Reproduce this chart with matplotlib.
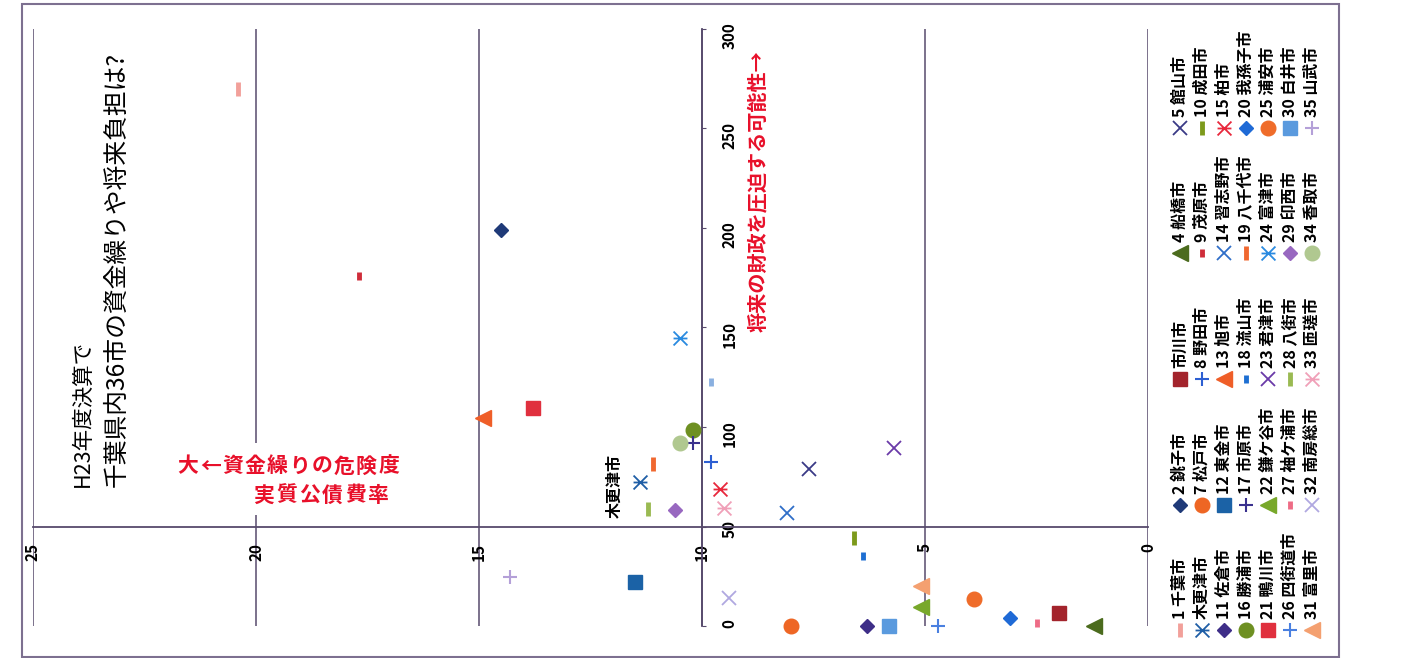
import matplotlib
matplotlib.use("Agg")
import matplotlib.pyplot as plt
from matplotlib.path import Path
from matplotlib.patches import Rectangle
from matplotlib.lines import Line2D

plt.rcParams['font.family'] = ['Noto Sans CJK JP', 'DejaVu Sans']

# H23 chiba cities: 実質公債費比率 (%) / 将来負担比率 (%)
cities = ["千葉市", "銚子市", "市川市", "船橋市", "館山市", "木更津市", "松戸市",
          "野田市", "茂原市", "成田市", "佐倉市", "東金市", "旭市", "習志野市",
          "柏市", "勝浦市", "市原市", "流山市", "八千代市", "我孫子市", "鴨川市",
          "鎌ケ谷市", "君津市", "富津市", "浦安市", "四街道市", "袖ケ浦市", "八街市",
          "印西市", "白井市", "富里市", "南房総市", "匝瑳市", "香取市", "山武市",
          "いすみ市"]
legend_labels = ["1 千葉市", "2 銚子市", "市川市", "4 船橋市", "5 館山市",
                 "木更津市", "7 松戸市", "8 野田市", "9 茂原市", "10 成田市",
                 "11 佐倉市", "12 東金市", "13 旭市", "14 習志野市", "15 柏市",
                 "16 勝浦市", "17 市原市", "18 流山市", "19 八千代市", "20 我孫子市",
                 "21 鴨川市", "22 鎌ケ谷市", "23 君津市", "24 富津市", "25 浦安市",
                 "26 四街道市", "27 袖ケ浦市", "28 八街市", "29 印西市", "30 白井市",
                 "31 富里市", "32 南房総市", "33 匝瑳市", "34 香取市", "35 山武市"]
debt_ratio = [20.4, 14.5, 2.0, 1.2, 7.6, 11.4, 8.0, 9.8, 17.7, 6.6, 6.3, 11.5,
              14.9, 8.1, 9.6, 10.2, 10.2, 6.4, 11.1, 3.1, 13.8, 5.1, 5.7, 10.5,
              3.9, 4.7, 2.5, 11.2, 10.6, 5.8, 5.1, 9.4, 9.5, 10.5, 14.3, 9.8]
future_burden = [270, 199, 6.5, 0, 79, 72.5, 0, 82.5, 176, 44, 0, 22, 104.5, 57,
                 69, 98.5, 92, 35, 81.5, 3.8, 109.5, 9.6, 89.5, 144.5, 13.6, 0,
                 1.3, 59, 58.3, 0, 20.3, 14.1, 59.3, 92, 24.6, 122.5]
colors = ["#f2a09a", "#1f3a78", "#a3242c", "#4b6b1d", "#3a3a86", "#1f5ea6",
          "#ee6624", "#2d5fd2", "#cf2d3a", "#7d9a1c", "#3e2e88", "#1b62a6",
          "#ef5e28", "#2f6ec8", "#e8283c", "#6e9022", "#3a318e", "#1e6fd2",
          "#f06830", "#1f6ad6", "#e0303e", "#78a82a", "#6a3aa8", "#2a8ae0",
          "#ef6c2a", "#4a80e0", "#ee6c86", "#9aba52", "#9868c0", "#5a9ade",
          "#f4a070", "#b0a8e0", "#f0a0b8", "#b0c890", "#b4a0d8", "#8ab0e0"]

W, H = 1426, 658
LINE_C = "#574a6c"
RED = "#e8102a"

# excel marker cycle, drawn already turned by 90 degrees
star = Path([(-1, -1), (1, 1), (-1, 1), (1, -1), (-1, 0), (1, 0)],
            [Path.MOVETO, Path.LINETO, Path.MOVETO, Path.LINETO,
             Path.MOVETO, Path.LINETO])
marker_cycle = [
    dict(marker='|', ms=10, mew=3.5),     # dash
    dict(marker='D', ms=7),               # diamond
    dict(marker='s', ms=10.5),            # square
    dict(marker='<', ms=11),              # triangle
    dict(marker='x', ms=9.5, mew=1.3),    # x
    dict(marker=star, ms=10, mew=1.3),    # star
    dict(marker='o', ms=10.5),            # circle
    dict(marker='+', ms=10, mew=1.5),     # plus
    dict(marker='|', ms=6, mew=3.5),      # dot
]


def px(x, y):
    return x / W, 1 - y / H


fig = plt.figure(figsize=(W / 100, H / 100), dpi=100)
ax = fig.add_axes([33 / W, 1 - 626 / H, (1148 - 33) / W, (626 - 29) / H])

for i in range(len(cities)):
    style = marker_cycle[i % 9]
    ax.plot(debt_ratio[i], future_burden[i], linestyle='none', color=colors[i],
            mfc=colors[i], mec=colors[i], clip_on=False, zorder=3, **style)

ax.set_xlim(25, 0)
ax.set_ylim(0, 300)
ax.spines['top'].set_visible(False)
ax.spines['left'].set_visible(False)
ax.spines['bottom'].set_position(('data', 50))
ax.spines['right'].set_position(('data', 10))
for s in ('bottom', 'right'):
    ax.spines[s].set_color(LINE_C)
    ax.spines[s].set_linewidth(1.3)
ax.yaxis.tick_right()
ax.set_xticks(range(0, 26, 5))
ax.set_yticks(range(0, 301, 50))
ax.tick_params(axis='x', length=0, pad=12, labelrotation=90, labelsize=11)
ax.tick_params(axis='y', length=3, direction='out', pad=11, labelrotation=90,
               labelsize=11, color=LINE_C)
for lab in ax.get_xticklabels() + ax.get_yticklabels():
    lab.set_fontweight('bold')
ax.grid(axis='x', color=LINE_C, lw=1.1)
ax.grid(axis='y', visible=False)

# outer frame
fig.add_artist(Rectangle(px(22, 657), (1339 - 22) / W, (657 - 4) / H,
                         transform=fig.transFigure, fill=False,
                         ec="#7d7090", lw=1.5))

# title
fig.text(*px(83, 487), "H23年度決算で", rotation=90, rotation_mode='anchor',
         ha='left', va='center', fontsize=15.5)
fig.text(*px(117, 487), "千葉県内36市の資金繰りや将来負担は?", rotation=90,
         rotation_mode='anchor', ha='left', va='center', fontsize=17.8)

# y axis title, spaced letters
fig.add_artist(Rectangle(px(170, 515), 240 / W, 72 / H,
                         transform=fig.transFigure, fc='white', ec='none'))
for k, ch in enumerate("大←資金繰りの危険度"):
    fig.text(*px(188 + 22.3 * k, 466), ch, ha='center', va='center',
             fontsize=15, color=RED, fontweight='bold')
for k, ch in enumerate("実質公債費率"):
    fig.text(*px(264 + 22.8 * k, 495), ch, ha='center', va='center',
             fontsize=15, color=RED, fontweight='bold')

# x axis title
fig.text(*px(757, 332), "将来の財政を圧迫する可能性→", rotation=90,
         rotation_mode='anchor', ha='left', va='center', fontsize=14.5,
         color=RED, fontweight='bold')

# label for kisarazu
fig.text(*px(615, 518), "木更津市", rotation=90, rotation_mode='anchor',
         ha='left', va='center', fontsize=11.5, fontweight='bold')

# legend (5 per row, rows turned into columns)
for idx, lab in enumerate(legend_labels):
    row, col = divmod(idx, 5)
    lx = 1180 + 22 * row
    ly = 630 - 125.5 * col
    style = marker_cycle[idx % 9]
    fig.add_artist(Line2D([lx / W], [1 - ly / H], transform=fig.transFigure,
                          linestyle='none', color=colors[idx], mfc=colors[idx],
                          mec=colors[idx], **style))
    fig.text(*px(lx, ly - 11), lab, rotation=90, rotation_mode='anchor',
             ha='left', va='center', fontsize=11.5, fontweight='bold')

fig.savefig("out.png", dpi=100, facecolor='white')
